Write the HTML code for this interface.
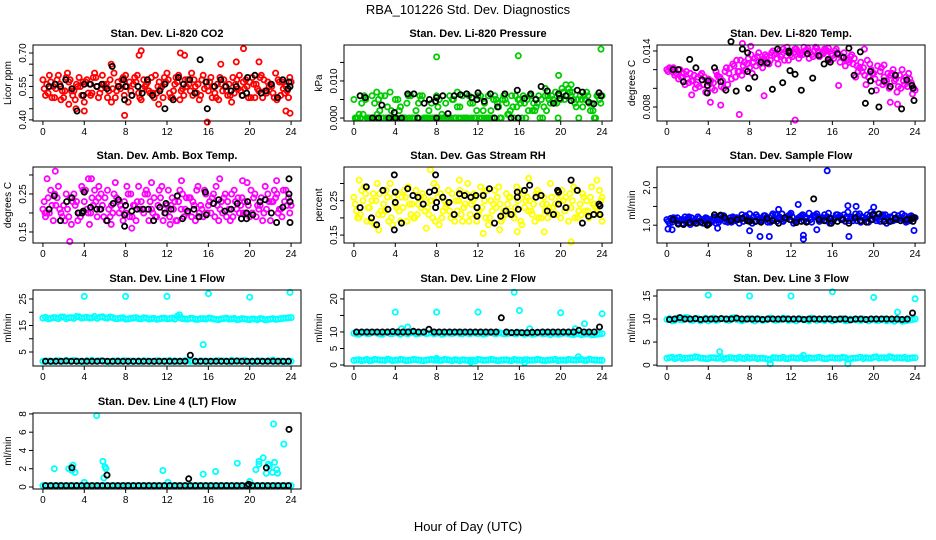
<!DOCTYPE html>
<html><head><meta charset="utf-8"><style>
body{margin:0;background:#fff}
svg{display:block;font-family:"Liberation Sans",sans-serif}
</style></head><body>
<svg id="chart" width="936" height="540" viewBox="0 0 936 540" xmlns="http://www.w3.org/2000/svg">
<rect width="936" height="540" fill="#fff"/>
<text x="468" y="14" font-size="13" text-anchor="middle">RBA_101226  Std. Dev. Diagnostics</text>
<text x="468" y="531" font-size="13" text-anchor="middle">Hour of Day (UTC)</text>
</svg>
<script>
const halfHours=[0,0.5,1,1.5,2,2.5,3,3.5,4,4.5,5,5.5,6,6.5,7,7.5,8,8.5,9,9.5,10,10.5,11,11.5,12,12.5,13,13.5,14,14.5,15,15.5,16,16.5,17,17.5,18,18.5,19,19.5,20,20.5,21,21.5,22,22.5,23,23.5,24];
const qHours=[0.25,0.75,1.25,1.75,2.25,2.75,3.25,3.75,4.25,4.75,5.25,5.75,6.25,6.75,7.25,7.75,8.25,8.75,9.25,9.75,10.25,10.75,11.25,11.75,12.25,12.75,13.25,13.75,14.25,14.75,15.25,15.75,16.25,16.75,17.25,17.75,18.25,18.75,19.25,19.75,20.25,20.75,21.25,21.75,22.25,22.75,23.25,23.75];
const e1Hours=[0.125,0.625,1.125,1.625,2.125,2.625,3.125,3.625,4.125,4.625,5.125,5.625,6.125,6.625,7.125,7.625,8.125,8.625,9.125,9.625,10.125,10.625,11.125,11.625,12.125,12.625,13.125,13.625,14.125,14.625,15.125,15.625,16.125,16.625,17.125,17.625,18.125,18.625,19.125,19.625,20.125,20.625,21.125,21.625,22.125,22.625,23.125,23.625];
const e3Hours=[0.375,0.875,1.375,1.875,2.375,2.875,3.375,3.875,4.375,4.875,5.375,5.875,6.375,6.875,7.375,7.875,8.375,8.875,9.375,9.875,10.375,10.875,11.375,11.875,12.375,12.875,13.375,13.875,14.375,14.875,15.375,15.875,16.375,16.875,17.375,17.875,18.375,18.875,19.375,19.875,20.375,20.875,21.375,21.875,22.375,22.875,23.375,23.875];
const xTicks=[0,4,8,12,16,20,24];

const co2A=[0.58,0.52,0.55,0.60,0.50,0.57,0.53,0.59,0.48,0.56,0.61,0.52,0.55,0.58,0.50,0.54,0.60,0.53,0.57,0.49,0.56,0.59,0.52,0.55,0.61,0.50,0.57,0.54,0.58,0.51,0.56,0.60,0.53,0.55,0.49,0.58,0.56,0.52,0.60,0.54,0.57,0.50,0.59,0.53,0.56,0.61,0.51,0.55,0.57];
const co2B=[0.51,0.57,0.54,0.49,0.59,0.53,0.56,0.51,0.58,0.52,0.55,0.60,0.50,0.54,0.57,0.59,0.48,0.56,0.52,0.58,0.53,0.50,0.57,0.59,0.52,0.56,0.49,0.58,0.53,0.55,0.51,0.57,0.59,0.50,0.56,0.53,0.48,0.58,0.51,0.55,0.59,0.54,0.50,0.57,0.52,0.58,0.54,0.50];
const co2C=[0.54,0.60,0.50,0.56,0.53,0.58,0.49,0.55,0.57,0.51,0.59,0.54,0.56,0.48,0.53,0.58,0.55,0.51,0.60,0.54,0.57,0.52,0.55,0.50,0.58,0.53,0.60,0.51,0.56,0.58,0.49,0.54,0.57,0.52,0.59,0.55,0.51,0.56,0.53,0.58,0.50,0.56,0.60,0.52,0.55,0.49,0.57,0.53];
const co2D=[0.56,0.50,0.58,0.53,0.61,0.51,0.55,0.57,0.52,0.59,0.50,0.56,0.53,0.61,0.55,0.51,0.57,0.59,0.50,0.55,0.52,0.60,0.54,0.57,0.50,0.59,0.53,0.55,0.61,0.52,0.58,0.55,0.50,0.56,0.53,0.51,0.59,0.54,0.57,0.50,0.56,0.53,0.58,0.55,0.50,0.57,0.52,0.59];
const co2Out=[[7.9,0.42],[9.3,0.69],[9.5,0.71],[13.3,0.70],[13.7,0.69],[15.9,0.39],[17.2,0.65],[18.7,0.66],[19.4,0.72],[20.9,0.66],[23.5,0.44],[23.9,0.43],[4,0.44],[3.2,0.45],[6.6,0.65],[2.5,0.47],[11.2,0.47]];
const co2Blk=[[0.6,0.55],[1.2,0.56],[1.7,0.55],[2.2,0.58],[2.8,0.54],[3.3,0.44],[3.9,0.51],[4.0,0.56],[4.6,0.56],[5.2,0.55],[5.7,0.56],[6.2,0.54],[6.7,0.64],[7.3,0.55],[7.8,0.58],[7.9,0.49],[8.0,0.55],[8.6,0.51],[9.2,0.55],[9.6,0.52],[10.1,0.58],[10.6,0.51],[11.3,0.53],[11.8,0.56],[11.8,0.45],[12.6,0.49],[13.1,0.59],[13.6,0.56],[14.2,0.58],[14.7,0.52],[15.2,0.67],[15.8,0.57],[15.9,0.45],[16.6,0.55],[17.2,0.58],[17.7,0.55],[18.2,0.53],[18.7,0.55],[19.3,0.51],[19.7,0.52],[19.8,0.59],[20.5,0.60],[21.1,0.52],[21.6,0.53],[22.1,0.56],[22.7,0.50],[23.2,0.58],[23.7,0.54],[23.8,0.57],[23.9,0.55]];

const presA=[0.005,0.001,0.006,0.0,0.004,0.002,0.006,0.0,0.005,0.003,0.0,0.006,0.002,0.005,0.0,0.004,0.006,0.001,0.0,0.005,0.003,0.006,0.0,0.004,0.006,0.002,0.0,0.005,0.003,0.006,0.001,0.0,0.005,0.004,0.006,0.002,0.0,0.006,0.004,0.007,0.005,0.009,0.006,0.003,0.005,0.007,0.004,0.006,0.006];
const presB=[0.0,0.004,0.0,0.006,0.001,0.0,0.003,0.0,0.005,0.0,0.006,0.0,0.004,0.0,0.002,0.0,0.005,0.0,0.006,0.0,0.003,0.0,0.004,0.0,0.006,0.0,0.002,0.005,0.0,0.004,0.006,0.003,0.0,0.005,0.002,0.004,0.0,0.006,0.005,0.0,0.007,0.008,0.005,0.0,0.006,0.004,0.0,0.005];
const presC=[0.0,0.0,0.005,0.0,0.0,0.006,0.0,0.002,0.0,0.0,0.004,0.0,0.0,0.006,0.0,0.0,0.003,0.0,0.0,0.005,0.0,0.0,0.006,0.0,0.0,0.004,0.0,0.006,0.0,0.005,0.002,0.006,0.004,0.0,0.006,0.003,0.005,0.002,0.006,0.004,0.008,0.006,0.007,0.005,0.003,0.006,0.002,0.006];
const presD=[0.0,0.001,0.0,0.0,0.005,0.0,0.0,0.0,0.002,0.0,0.0,0.0,0.006,0.0,0.0,0.0,0.0,0.004,0.0,0.0,0.0,0.0,0.0,0.002,0.0,0.0,0.0,0.004,0.005,0.001,0.003,0.005,0.006,0.002,0.004,0.006,0.003,0.005,0.004,0.006,0.005,0.007,0.004,0.006,0.005,0.002,0.0,0.004];
const presOut=[[8,0.0165],[15.9,0.0168],[19.8,0.0115],[23.9,0.0186],[21,0.009],[18.5,0.008],[2.2,0.007],[3.5,0.007],[10,0.007],[13,0.006]];
const presBlk=[[0.6,0.006],[1.1,0.0055],[1.8,0],[2.4,0],[2.7,0.0035],[3.4,0],[3.9,0.0015],[4.0,0],[4.6,0],[5.2,0.0065],[5.8,0.0065],[6.2,0],[6.8,0.004],[7.3,0.005],[7.9,0.0045],[8.0,0.0055],[8.0,0],[8.6,0.006],[9.1,0.0012],[9.7,0.006],[10.3,0.0063],[10.9,0.0065],[11.4,0.0055],[11.9,0.005],[12.0,0.0068],[12.6,0.0045],[13.2,0.0065],[13.6,0],[13.9,0.003],[14.6,0.0065],[15.2,0],[15.8,0.0075],[15.9,0],[16.5,0.0053],[17.1,0.0065],[17.6,0.005],[18.1,0.0085],[18.7,0.0073],[19.3,0.004],[19.8,0.0065],[19.9,0.0053],[20.5,0.006],[21.0,0.0047],[21.6,0.0075],[22.1,0.007],[22.7,0.0043],[23.2,0.0038],[23.7,0.0068],[23.9,0.006]];

const tempA=[0.0120,0.0118,0.0115,0.0112,0.0110,0.0108,0.0112,0.0104,0.0110,0.0106,0.0112,0.0100,0.0116,0.0124,0.0118,0.0128,0.0122,0.0132,0.0126,0.0136,0.0130,0.0138,0.0134,0.0140,0.0136,0.0142,0.0138,0.0141,0.0136,0.0143,0.0138,0.0140,0.0135,0.0138,0.0134,0.0130,0.0126,0.0118,0.0122,0.0112,0.0116,0.0106,0.0112,0.0100,0.0108,0.0114,0.0104,0.0110,0.0098];
const tempB=[0.0122,0.0114,0.0120,0.0104,0.0116,0.0100,0.0114,0.0096,0.0108,0.0118,0.0102,0.0122,0.0110,0.0130,0.0114,0.0126,0.0116,0.0134,0.0122,0.0128,0.0140,0.0126,0.0142,0.0130,0.0138,0.0132,0.0144,0.0132,0.0140,0.0134,0.0142,0.0130,0.0140,0.0128,0.0124,0.0134,0.0112,0.0128,0.0104,0.0120,0.0098,0.0122,0.0108,0.0116,0.0096,0.0120,0.0102,0.0094];
const tempC=[0.0118,0.0122,0.0110,0.0116,0.0106,0.0114,0.0102,0.0112,0.0106,0.0098,0.0112,0.0118,0.0122,0.0112,0.0130,0.0120,0.0136,0.0124,0.0130,0.0134,0.0138,0.0132,0.0136,0.0144,0.0134,0.0140,0.0136,0.0143,0.0134,0.0140,0.0137,0.0143,0.0132,0.0136,0.0138,0.0128,0.0132,0.0122,0.0114,0.0126,0.0110,0.0118,0.0106,0.0114,0.0110,0.0100,0.0112,0.0106];
const tempD=[0.0121,0.0116,0.0112,0.0118,0.0108,0.0104,0.0116,0.0108,0.0100,0.0114,0.0108,0.0104,0.0126,0.0118,0.0124,0.0132,0.0128,0.0138,0.0132,0.0126,0.0136,0.0140,0.0130,0.0138,0.0142,0.0136,0.0140,0.0138,0.0144,0.0136,0.0141,0.0137,0.0142,0.0134,0.0130,0.0136,0.0124,0.0118,0.0130,0.0116,0.0124,0.0104,0.0116,0.0120,0.0102,0.0108,0.0116,0.0100];
const tempOut=[[7.3,0.0148],[7,0.0072],[5.2,0.0082],[4.2,0.0085],[12.4,0.0066],[19.1,0.0142],[21,0.0125],[21.6,0.0085],[22.3,0.0083],[2.4,0.0093],[16.6,0.0103],[8.1,0.0145],[9.4,0.0092]];
const tempBlk=[[0.6,0.0120],[1.1,0.0120],[1.6,0.0107],[2.2,0.0131],[2.8,0.0122],[3.4,0.0109],[3.9,0.0095],[3.9,0.0103],[4.0,0.0108],[4.6,0.0122],[5.2,0.0107],[5.7,0.0098],[6.2,0.0150],[6.7,0.0097],[7.3,0.0142],[7.8,0.0138],[7.8,0.0118],[7.9,0.0100],[8.5,0.0112],[9.1,0.0128],[9.7,0.0127],[10.2,0.0099],[10.7,0.0142],[11.2,0.0106],[11.8,0.0140],[11.8,0.0138],[11.9,0.0119],[12.4,0.0115],[13.0,0.0098],[13.6,0.0137],[14.1,0.0111],[14.7,0.0135],[15.2,0.0126],[15.6,0.0131],[15.8,0.0128],[16.5,0.0137],[17.1,0.0133],[17.6,0.0143],[18.1,0.0114],[18.7,0.0139],[19.2,0.0084],[19.7,0.0118],[19.7,0.0108],[19.8,0.0097],[20.5,0.0080],[21.0,0.0108],[21.6,0.0102],[22.1,0.0114],[22.7,0.0078],[23.2,0.0109],[23.7,0.0103],[23.8,0.0100],[23.9,0.0087]];

const ambA=[0.21,0.24,0.18,0.27,0.22,0.19,0.25,0.20,0.23,0.17,0.26,0.21,0.24,0.19,0.28,0.22,0.20,0.25,0.18,0.23,0.26,0.21,0.19,0.27,0.22,0.24,0.18,0.25,0.20,0.23,0.27,0.19,0.22,0.25,0.18,0.24,0.21,0.26,0.20,0.23,0.19,0.25,0.22,0.27,0.18,0.24,0.21,0.26,0.22];
const ambB=[0.19,0.26,0.22,0.20,0.25,0.17,0.23,0.27,0.21,0.24,0.19,0.22,0.26,0.20,0.23,0.18,0.25,0.22,0.27,0.20,0.18,0.24,0.26,0.21,0.19,0.23,0.26,0.21,0.24,0.18,0.22,0.25,0.20,0.27,0.23,0.19,0.25,0.21,0.24,0.28,0.20,0.22,0.18,0.25,0.23,0.20,0.26,0.24];
const ambC=[0.23,0.20,0.25,0.21,0.18,0.24,0.22,0.19,0.26,0.20,0.23,0.25,0.18,0.22,0.24,0.21,0.27,0.19,0.23,0.21,0.25,0.20,0.22,0.18,0.26,0.21,0.23,0.19,0.24,0.22,0.20,0.26,0.23,0.19,0.21,0.25,0.18,0.23,0.22,0.20,0.26,0.19,0.24,0.21,0.23,0.25,0.19,0.22];
const ambD=[0.20,0.22,0.24,0.19,0.21,0.23,0.18,0.26,0.20,0.22,0.24,0.19,0.21,0.25,0.20,0.23,0.19,0.22,0.21,0.25,0.23,0.19,0.24,0.20,0.22,0.18,0.21,0.24,0.19,0.26,0.21,0.20,0.24,0.22,0.20,0.23,0.19,0.24,0.20,0.22,0.24,0.21,0.20,0.23,0.26,0.21,0.23,0.20];
const ambOut=[[0.4,0.29],[1.2,0.31],[2.6,0.125],[4.4,0.29],[4.7,0.29],[8.6,0.16],[10.5,0.28],[13.4,0.285],[17.1,0.29],[19.3,0.285],[22.6,0.285],[6.6,0.17],[15.0,0.19],[12.3,0.17],[0.2,0.2],[5.4,0.27]];
const ambBlk=[[0.6,0.21],[1.1,0.245],[1.7,0.18],[2.3,0.23],[2.8,0.24],[3.4,0.20],[3.8,0.20],[3.9,0.205],[4.0,0.255],[4.6,0.215],[5.2,0.21],[5.6,0.21],[6.2,0.18],[6.8,0.225],[7.3,0.235],[7.9,0.165],[7.9,0.195],[8.0,0.22],[8.6,0.205],[9.1,0.21],[9.7,0.21],[10.2,0.21],[10.7,0.18],[11.3,0.215],[11.8,0.20],[11.9,0.225],[12.4,0.21],[13.0,0.245],[13.5,0.185],[14.0,0.205],[14.6,0.21],[15.1,0.19],[15.7,0.255],[15.8,0.195],[16.5,0.225],[17.0,0.235],[17.6,0.205],[18.2,0.21],[18.8,0.225],[19.2,0.185],[19.7,0.20],[19.7,0.185],[19.8,0.23],[20.3,0.195],[21.0,0.23],[21.5,0.235],[22.1,0.20],[22.6,0.175],[23.2,0.215],[23.8,0.29],[23.8,0.25],[23.9,0.23],[23.9,0.175]];

const rhA=[0.26,0.20,0.29,0.23,0.18,0.27,0.22,0.30,0.24,0.19,0.26,0.21,0.28,0.23,0.17,0.25,0.29,0.20,0.24,0.27,0.22,0.19,0.30,0.25,0.21,0.27,0.18,0.24,0.29,0.22,0.26,0.20,0.28,0.23,0.25,0.19,0.27,0.22,0.30,0.24,0.20,0.26,0.23,0.28,0.21,0.25,0.29,0.22,0.26];
const rhB=[0.22,0.28,0.19,0.25,0.30,0.21,0.26,0.18,0.27,0.23,0.29,0.20,0.24,0.26,0.21,0.30,0.18,0.25,0.22,0.19,0.28,0.24,0.21,0.26,0.29,0.20,0.25,0.23,0.19,0.27,0.22,0.29,0.18,0.26,0.21,0.28,0.24,0.20,0.23,0.27,0.25,0.19,0.29,0.22,0.26,0.20,0.24,0.28];
const rhC=[0.24,0.21,0.27,0.19,0.25,0.22,0.28,0.20,0.23,0.26,0.19,0.24,0.21,0.27,0.23,0.20,0.26,0.22,0.28,0.21,0.25,0.23,0.19,0.27,0.22,0.25,0.20,0.28,0.24,0.21,0.26,0.23,0.19,0.25,0.22,0.27,0.20,0.24,0.26,0.21,0.28,0.23,0.25,0.20,0.27,0.22,0.24,0.21];
const rhD=[0.20,0.25,0.23,0.27,0.21,0.24,0.19,0.26,0.22,0.28,0.24,0.20,0.26,0.22,0.25,0.19,0.27,0.23,0.20,0.25,0.21,0.27,0.24,0.19,0.23,0.28,0.22,0.26,0.20,0.24,0.21,0.25,0.27,0.22,0.24,0.20,0.26,0.23,0.21,0.25,0.22,0.27,0.20,0.24,0.22,0.26,0.23,0.25];
const rhOut=[[7.4,0.34],[15.8,0.16],[12.5,0.155],[18.4,0.16],[21,0.13],[2.4,0.165],[14.1,0.165],[16.9,0.315],[10.2,0.31],[0.5,0.31],[23.5,0.31],[24,0.19]];
const rhBlk=[[0.6,0.23],[1.2,0.29],[1.7,0.20],[2.2,0.18],[2.8,0.28],[3.3,0.225],[3.9,0.325],[3.9,0.165],[4.0,0.275],[4.0,0.245],[4.6,0.185],[5.2,0.285],[5.7,0.265],[6.2,0.26],[6.7,0.24],[7.3,0.275],[7.8,0.28],[7.9,0.325],[7.9,0.23],[8.0,0.245],[8.6,0.26],[9.2,0.245],[9.7,0.21],[10.2,0.27],[10.7,0.265],[11.3,0.26],[11.8,0.265],[11.9,0.205],[11.9,0.23],[12.5,0.265],[13.1,0.285],[13.6,0.185],[14.2,0.205],[14.7,0.22],[15.2,0.21],[15.8,0.275],[15.8,0.26],[15.9,0.225],[16.5,0.28],[17.0,0.295],[17.6,0.26],[18.1,0.265],[18.7,0.22],[19.3,0.21],[19.7,0.28],[19.8,0.24],[19.8,0.275],[20.5,0.23],[21.0,0.31],[21.6,0.28],[22.1,0.185],[22.7,0.205],[23.2,0.21],[23.7,0.24],[23.8,0.21],[23.8,0.235]];

const sfA=[1.15,1.08,1.20,1.05,1.18,1.10,1.22,1.05,1.15,1.20,1.08,1.25,1.12,1.18,1.05,1.22,1.30,1.10,1.18,1.25,1.08,1.28,1.15,1.20,1.32,1.12,1.25,1.18,1.08,1.30,1.15,1.22,1.10,1.28,1.18,1.35,1.12,1.25,1.20,1.08,1.30,1.15,1.22,1.10,1.28,1.18,1.25,1.12,1.20];
const sfB=[1.05,1.18,1.10,1.22,1.02,1.15,1.08,1.20,1.12,1.05,1.25,1.15,1.08,1.20,1.28,1.12,1.05,1.22,1.15,1.08,1.30,1.18,1.10,1.25,1.05,1.20,1.12,1.32,1.22,1.10,1.28,1.05,1.18,1.25,1.10,1.22,1.30,1.08,1.18,1.35,1.12,1.25,1.05,1.20,1.15,1.30,1.10,1.22];
const sfC=[1.10,1.20,1.05,1.15,1.22,1.08,1.18,1.12,1.05,1.22,1.15,1.10,1.20,1.12,1.18,1.25,1.15,1.28,1.12,1.20,1.25,1.10,1.30,1.18,1.22,1.15,1.28,1.10,1.25,1.18,1.20,1.32,1.15,1.22,1.28,1.12,1.20,1.30,1.15,1.25,1.18,1.10,1.28,1.22,1.15,1.20,1.08,1.25];
const sfD=[1.18,1.12,1.15,1.08,1.20,1.05,1.15,1.18,1.10,1.15,1.20,1.08,1.22,1.15,1.10,1.18,1.22,1.15,1.25,1.12,1.18,1.22,1.15,1.28,1.10,1.22,1.18,1.15,1.25,1.20,1.12,1.18,1.28,1.15,1.22,1.18,1.12,1.22,1.28,1.15,1.20,1.28,1.18,1.12,1.25,1.15,1.22,1.18];
const sfOut=[[0.1,0.9],[0.5,0.88],[4.9,0.92],[8.0,0.85],[9.0,0.7],[9.9,0.7],[13.2,0.73],[13.2,0.63],[12.7,1.55],[15.5,2.45],[17.6,0.7],[17.5,1.52],[18.3,1.5],[20.0,1.48],[23.9,0.86],[10.8,1.42],[14.5,0.88]];
const sfBlk=[[0.6,1.15],[1.1,1.03],[1.6,1.02],[2.2,1.07],[2.8,1.05],[3.3,1.08],[3.9,1.0],[4.0,1.03],[4.6,1.28],[5.2,1.27],[5.6,1.2],[6.2,1.12],[6.8,1.15],[7.3,1.18],[7.8,1.12],[8.0,1.1],[8.6,1.1],[9.1,1.08],[9.7,1.18],[10.2,1.12],[10.8,1.05],[11.4,1.2],[11.9,1.15],[12.5,1.07],[13.0,1.1],[13.5,1.08],[14.2,1.7],[14.7,1.15],[15.2,1.12],[15.8,1.18],[15.9,1.05],[16.5,1.1],[17.0,1.15],[17.6,1.05],[18.2,1.2],[18.7,1.12],[19.3,1.08],[19.8,1.15],[19.9,1.28],[20.5,1.3],[21.0,1.1],[21.6,1.1],[22.1,1.18],[22.6,1.12],[23.2,1.15],[23.7,1.18],[23.8,1.1],[23.9,1.2]];

const l1Hi=[17.8,17.5,18.0,17.6,18.2,17.9,17.7,18.3,18.0,17.8,18.4,18.1,17.9,18.2,17.6,17.8,17.4,17.7,18.0,17.5,17.8,17.6,17.3,17.7,17.5,17.8,18.5,17.6,17.4,17.7,17.3,17.6,17.8,17.5,17.2,17.6,17.4,17.7,17.3,17.5,17.2,17.4,17.6,17.1,17.4,17.3,17.6,17.8,18.0];
const l1Hi2=[18.1,17.7,17.9,18.2,17.6,18.0,18.4,17.8,18.1,17.9,17.7,18.3,17.8,18.0,17.6,17.9,17.5,17.8,17.6,17.9,17.4,17.7,17.5,17.8,17.6,17.4,17.9,17.5,17.7,17.3,17.6,17.4,17.7,17.3,17.5,17.8,17.5,17.2,17.6,17.3,17.5,17.2,17.5,17.3,17.6,17.4,17.7,17.9];
const l1Lo=[1.6,1.4,1.7,1.5,1.8,1.5,1.6,1.4,1.7,1.9,1.5,1.6,1.4,1.5,1.7,1.6,1.5,1.4,1.6,1.7,1.5,1.4,1.6,1.5,1.8,1.6,1.5,1.7,1.4,1.5,1.6,1.4,1.5,1.7,1.6,1.5,1.9,1.5,1.6,1.4,1.5,1.7,1.5,1.6,2.0,1.5,1.4,1.6];
const l1Lo2=[1.5,1.6,1.4,1.7,1.5,1.6,1.8,1.5,1.4,1.6,1.5,1.7,1.5,1.4,1.6,1.5,1.7,1.6,1.5,1.4,1.6,1.5,1.7,1.5,1.6,1.4,1.5,1.6,1.7,1.5,1.4,1.6,1.5,1.5,1.7,1.6,1.4,1.5,1.6,1.8,1.5,1.4,1.6,1.5,1.7,1.5,1.6,1.4,1.5];
const l1Out=[[4,26],[8,26],[12,26],[16,27],[20,25.7],[23.9,27.5],[15.5,7.8],[13.2,19]];
const l1Blk=[1.5,1.5,1.5,1.5,1.6,1.5,1.5,1.5,1.5,1.5,1.5,1.6,1.5,1.5,1.5,1.5,1.5,1.5,1.5,1.5,1.5,1.5,1.5,1.5,1.5,1.5,1.5,1.5,3.8,1.5,1.5,1.5,1.5,1.5,1.5,1.5,1.5,1.6,1.5,1.5,1.5,1.5,1.5,1.5,1.5,1.5,1.5,1.5];

const l2Hi=[9.6,9.3,9.8,9.5,9.9,9.4,9.7,9.5,9.8,9.3,9.6,9.9,9.4,9.7,9.5,9.8,9.6,9.3,9.7,9.5,9.9,9.4,9.6,9.8,9.5,9.3,9.7,9.6,9.9,9.4,9.6,9.5,9.8,9.3,9.6,9.4,9.7,9.5,9.2,9.6,9.4,9.7,9.3,9.5,9.2,9.4,9.1,9.3,9.5];
const l2Hi2=[9.4,9.7,9.5,9.8,9.6,9.3,9.9,9.5,9.6,9.8,9.4,9.7,9.5,9.9,9.6,9.4,9.8,9.5,9.6,9.7,9.5,9.8,9.4,9.6,9.7,9.5,9.8,9.4,9.6,9.5,9.7,9.4,9.6,9.5,9.3,9.6,9.4,9.7,9.5,9.3,9.6,9.4,9.2,9.5,9.3,9.4,9.2,9.4];
const l2Lo=[1.5,1.3,1.7,1.4,1.6,1.5,1.8,1.3,1.5,1.6,1.4,1.7,1.5,1.3,1.6,1.5,1.4,1.7,1.5,1.6,1.3,1.5,1.4,1.2,1.6,1.5,1.7,1.4,1.5,1.6,1.3,1.5,1.4,1.6,1.5,1.7,1.4,1.5,1.6,1.3,1.5,1.7,1.5,1.6,1.4,1.8,1.5,1.4];
const l2Lo2=[1.4,1.6,1.5,1.3,1.7,1.5,1.4,1.6,1.5,1.7,1.3,1.5,1.6,1.4,1.5,1.7,1.5,1.4,1.6,1.3,1.5,1.6,1.4,1.5,1.7,1.4,1.5,1.6,1.3,1.5,1.4,1.7,1.5,1.6,1.4,1.5,1.6,1.3,1.5,1.7,1.5,1.4,1.6,1.5,1.7,1.4,1.6,1.5,1.4];
const l2Out=[[4,16],[8,16],[12,16],[15.5,22],[16,16.5],[20,15.8],[24,15.5],[4.6,11],[5.2,11.5],[17,11],[21.4,11],[22.3,12.5],[21.7,2.5],[11.3,0.9],[16.5,0.7],[8,2]];
const l2Blk=[10,10,10,10,10,10,10,10.1,10,10,10,10.2,10,10,10.8,10,10,10,10,10,10,10,10,10,10,10,10,10,14.3,10,9.8,9.9,9.8,9.8,9.9,9.9,10,10,10,10,10,10,10,10.5,10,10,10,11.5];

const l3Hi=[9.9,9.6,10.2,9.8,10.3,9.7,10.1,9.9,9.6,10.2,9.8,10.0,9.7,10.3,9.9,9.8,10.1,9.6,10.0,9.8,10.2,9.7,9.9,10.1,9.8,9.6,10.0,9.9,10.2,9.7,9.8,10.0,9.6,9.9,10.1,9.7,9.9,9.8,10.0,9.6,9.9,9.7,10.0,9.8,9.5,9.9,9.6,9.8,10.0];
const l3Hi2=[10.1,9.7,9.9,10.3,9.8,10.0,9.6,10.2,9.9,9.7,10.1,9.8,10.2,9.9,9.6,10.0,9.8,10.1,9.7,9.9,10.0,9.8,10.2,9.7,9.9,10.1,9.8,9.6,10.0,9.9,9.7,10.1,9.8,9.9,9.6,10.0,9.8,9.7,9.9,10.0,9.7,9.9,9.6,9.8,9.9,9.5,9.7,9.9];
const l3Lo=[1.6,1.4,1.7,1.5,1.6,1.8,1.5,1.4,1.6,1.5,1.7,1.5,1.6,1.4,1.5,1.7,1.6,1.4,1.5,1.3,1.6,1.5,1.7,1.4,1.6,1.5,1.4,1.6,1.5,1.7,1.4,1.6,1.5,1.5,1.6,1.4,1.5,1.7,1.6,1.5,1.8,1.6,1.5,1.7,1.6,1.5,1.4,1.6];
const l3Lo2=[1.5,1.7,1.6,1.4,1.5,1.6,1.7,1.5,1.4,1.6,1.5,1.3,1.6,1.5,1.7,1.4,1.5,1.6,1.5,1.4,1.2,1.6,1.5,1.4,1.6,1.5,1.7,1.4,1.5,1.6,1.5,1.4,1.6,1.5,1.7,1.3,1.5,1.6,1.4,1.5,1.7,1.5,1.6,1.8,1.5,1.6,1.7,1.5,1.6];
const l3Out=[[4,15.2],[8,15],[12,15],[16,15.9],[20,14.7],[24,14.4],[22.3,11.5],[5.1,2.9],[10,0.3],[17.5,0.3],[13.2,2.1]];
const l3Blk=[9.9,10,10.3,10,10,10.1,9.9,10,10,10,10.1,10,10,10.2,10,10,10,10,9.9,10,10,10,10,10,10,10,9.9,10,10,10,10,10,9.9,10,10,9.8,10,10,9.9,10,10,10,10,10,10,9.9,10,11.3];

const l4Base=[0.15,0.15,0.15,0.15,0.15,0.15,0.15,0.15,0.15,0.15,0.15,0.15,0.15,0.15,0.15,0.15,0.15,0.15,0.15,0.15,0.15,0.15,0.15,0.15,0.15,0.15,0.15,0.15,0.15,0.15,0.15,0.15,0.15,0.15,0.15,0.15,0.15,0.15,0.15,0.15,0.15,0.15,0.15,0.15,0.15,0.15,0.15,0.15,0.15];
const l4Base2=[0.15,0.15,0.15,0.15,0.15,0.15,0.15,0.15,0.15,0.15,0.15,0.15,0.15,0.15,0.15,0.15,0.15,0.15,0.15,0.15,0.15,0.15,0.15,0.15,0.15,0.15,0.15,0.15,0.15,0.15,0.15,0.15,0.15,0.15,0.15,0.15,0.15,0.15,0.15,0.15,0.15,0.15,0.15,0.15,0.15,0.15,0.15,0.15];
const l4Out=[[1.1,2],[2.5,2],[2.9,2.4],[3.1,1.6],[2.8,1.8],[5.2,7.8],[5.8,2.8],[6,2.2],[6.1,2],[5.9,1.0],[4,0.5],[11.6,1.8],[12.1,0.5],[15.5,1.4],[16.7,1.7],[18.8,2.6],[20,0.6],[20.6,1.9],[20.9,2.8],[20.9,2.5],[21.3,3.2],[21.6,1.5],[21.9,2.3],[22.2,1.6],[22.4,2.7],[22.6,1.9],[22.7,1.5],[22.3,6.9],[23.3,4.7],[21.8,2.5]];
const l4Blk=[0.15,0.15,0.15,0.15,0.15,0.15,0.15,0.15,0.15,0.15,0.15,0.15,0.15,0.15,0.15,0.15,0.15,0.15,0.15,0.15,0.15,0.15,0.15,0.15,0.15,0.15,0.15,0.15,0.15,0.15,0.15,0.15,0.15,0.15,0.15,0.15,0.15,0.15,0.15,0.15,0.15,0.15,0.15,0.15,0.15,0.15,0.15,0.15];
const l4BlkOut=[[2.8,2.1],[6.2,1.3],[14.1,0.9],[21.6,2.1],[23.8,6.3],[19.9,0.3]];

const NS='http://www.w3.org/2000/svg';
const svg=document.getElementById('chart');
function mk(tag,attrs,parent){const e=document.createElementNS(NS,tag);for(const k in attrs)e.setAttribute(k,attrs[k]);(parent||svg).appendChild(e);return e;}
const W=268,H=76;
function panel(cfg){
  const g=mk('g',{});
  
  
  const L=cfg.left,T=cfg.top;
  const xs=h=>L+(h+0.96)/25.92*W;
  const ys=v=>T+H-(v-cfg.dom[0])/(cfg.dom[1]-cfg.dom[0])*H;
  const t=mk('text',{x:L+W/2,y:T-8,'font-size':11,'font-weight':'bold','text-anchor':'middle'},g);
  t.textContent=cfg.title;
  
  
  const yl=mk('text',{transform:`translate(${L-22},${T+H/2}) rotate(-90)`,'font-size':10,'text-anchor':'middle'},g);
  yl.textContent=cfg.ylab;
  
  
  const pts=mk('g',{},g);
  
  
  function dot(h,v,c){
    const el=mk('circle',{cx:xs(h).toFixed(1),cy:ys(v).toFixed(1),r:2.6,fill:'none',stroke:c,'stroke-width':1.8},pts);
    
    
  }
  cfg.series.forEach(s=>{
    if(s.pairs) s.pairs.forEach(p=>dot(p[0],p[1],s.color));
    else s.vals.forEach((v,i)=>dot(s.hours[i],v,s.color));
  });
  const box=mk('rect',{x:L,y:T,width:W,height:H,fill:'none',stroke:'#000','stroke-width':1},g);
  
  
  xTicks.forEach(h=>{
    const x=xs(h);
    mk('line',{x1:x,x2:x,y1:T+H,y2:T+H+4,stroke:'#000'},g);
    const tx=mk('text',{x:x,y:T+H+14,'font-size':10,'text-anchor':'middle'},g);
    tx.textContent=h;
    
    
  });
  cfg.yticks.forEach((v,i)=>{
    const y=ys(v);
    mk('line',{x1:L-4,x2:L,y1:y,y2:y,stroke:'#000'},g);
    if(cfg.ylabels[i]!==''){
      const ty=mk('text',{transform:`translate(${L-7},${y}) rotate(-90)`,'font-size':10,'text-anchor':'middle'},g);
      ty.textContent=cfg.ylabels[i];
      
      
    }
  });
}
const C1=33,C2=344,C3=657,R1=45,R2=167,R3=290,R4=413;
panel({name:'panel-co2',left:C1,top:R1,title:'Stan. Dev. Li-820 CO2',ylab:'Licor ppm',dom:[0.395,0.736],
  yticks:[0.40,0.45,0.50,0.55,0.60,0.65,0.70],ylabels:['0.40','','','0.55','','','0.70'],
  series:[{vals:co2A,hours:halfHours,color:'#ff0000'},{vals:co2B,hours:qHours,color:'#ff0000'},{vals:co2C,hours:e1Hours,color:'#ff0000'},{vals:co2D,hours:e3Hours,color:'#ff0000'},{pairs:co2Out,color:'#ff0000'},{pairs:co2Blk,color:'#000'}]});
panel({name:'panel-pressure',left:C2,top:R1,title:'Stan. Dev. Li-820 Pressure',ylab:'kPa',dom:[-0.0008,0.0197],
  yticks:[0,0.005,0.010,0.015],ylabels:['0.000','','0.010',''],
  series:[{vals:presA,hours:halfHours,color:'#00cd00'},{vals:presB,hours:qHours,color:'#00cd00'},{vals:presC,hours:e1Hours,color:'#00cd00'},{vals:presD,hours:e3Hours,color:'#00cd00'},{pairs:presOut,color:'#00cd00'},{pairs:presBlk,color:'#000'}]});
panel({name:'panel-licor-temp',left:C3,top:R1,title:'Stan. Dev. Li-820 Temp.',ylab:'degrees C',dom:[0.0065,0.01464],
  yticks:[0.008,0.010,0.012,0.014],ylabels:['0.008','','','0.014'],
  series:[{vals:tempA,hours:halfHours,color:'#ff00ff'},{vals:tempB,hours:qHours,color:'#ff00ff'},{vals:tempC,hours:e1Hours,color:'#ff00ff'},{vals:tempD,hours:e3Hours,color:'#ff00ff'},{pairs:tempOut,color:'#ff00ff'},{pairs:tempBlk,color:'#000'}]});
panel({name:'panel-amb-box-temp',left:C1,top:R2,title:'Stan. Dev. Amb. Box Temp.',ylab:'degrees C',dom:[0.121,0.321],
  yticks:[0.15,0.20,0.25,0.30],ylabels:['0.15','','0.25',''],
  series:[{vals:ambA,hours:halfHours,color:'#ff00ff'},{vals:ambB,hours:qHours,color:'#ff00ff'},{vals:ambC,hours:e1Hours,color:'#ff00ff'},{vals:ambD,hours:e3Hours,color:'#ff00ff'},{pairs:ambOut,color:'#ff00ff'},{pairs:ambBlk,color:'#000'}]});
panel({name:'panel-gas-rh',left:C2,top:R2,title:'Stan. Dev. Gas Stream RH',ylab:'percent',dom:[0.127,0.348],
  yticks:[0.15,0.20,0.25,0.30],ylabels:['0.15','','0.25',''],
  series:[{vals:rhA,hours:halfHours,color:'#ffff00'},{vals:rhB,hours:qHours,color:'#ffff00'},{vals:rhC,hours:e1Hours,color:'#ffff00'},{vals:rhD,hours:e3Hours,color:'#ffff00'},{pairs:rhOut,color:'#ffff00'},{pairs:rhBlk,color:'#000'}]});
panel({name:'panel-sample-flow',left:C3,top:R2,title:'Stan. Dev. Sample Flow',ylab:'ml/min',dom:[0.526,2.55],
  yticks:[1.0,1.5,2.0],ylabels:['1.0','','2.0'],
  series:[{vals:sfA,hours:halfHours,color:'#0000ff'},{vals:sfB,hours:qHours,color:'#0000ff'},{vals:sfC,hours:e1Hours,color:'#0000ff'},{vals:sfD,hours:e3Hours,color:'#0000ff'},{pairs:sfOut,color:'#0000ff'},{pairs:sfBlk,color:'#000'}]});
panel({name:'panel-line1-flow',left:C1,top:R3,title:'Stan. Dev. Line 1 Flow',ylab:'ml/min',dom:[-0.28,28.4],
  yticks:[5,10,15,20,25],ylabels:['5','','15','','25'],
  series:[{vals:l1Hi,hours:halfHours,color:'#00ffff'},{vals:l1Hi2,hours:qHours,color:'#00ffff'},{vals:l1Lo,hours:qHours,color:'#00ffff'},{vals:l1Lo2,hours:halfHours,color:'#00ffff'},{pairs:l1Out,color:'#00ffff'},{vals:l1Blk,hours:qHours,color:'#000'}]});
panel({name:'panel-line2-flow',left:C2,top:R3,title:'Stan. Dev. Line 2 Flow',ylab:'ml/min',dom:[-0.3,22.7],
  yticks:[0,5,10,15,20],ylabels:['0','5','10','','20'],
  series:[{vals:l2Hi,hours:halfHours,color:'#00ffff'},{vals:l2Hi2,hours:qHours,color:'#00ffff'},{vals:l2Lo,hours:qHours,color:'#00ffff'},{vals:l2Lo2,hours:halfHours,color:'#00ffff'},{pairs:l2Out,color:'#00ffff'},{vals:l2Blk,hours:qHours,color:'#000'}]});
panel({name:'panel-line3-flow',left:C3,top:R3,title:'Stan. Dev. Line 3 Flow',ylab:'ml/min',dom:[-0.2,16.3],
  yticks:[0,5,10,15],ylabels:['0','5','10','15'],
  series:[{vals:l3Hi,hours:halfHours,color:'#00ffff'},{vals:l3Hi2,hours:qHours,color:'#00ffff'},{vals:l3Lo,hours:qHours,color:'#00ffff'},{vals:l3Lo2,hours:halfHours,color:'#00ffff'},{pairs:l3Out,color:'#00ffff'},{vals:l3Blk,hours:qHours,color:'#000'}]});
panel({name:'panel-line4-flow',left:C1,top:R4,title:'Stan. Dev. Line 4 (LT) Flow',ylab:'ml/min',dom:[-0.22,8.1],
  yticks:[0,2,4,6,8],ylabels:['0','2','4','6','8'],
  series:[{vals:l4Base,hours:halfHours,color:'#00ffff'},{vals:l4Base2,hours:qHours,color:'#00ffff'},{pairs:l4Out,color:'#00ffff'},{vals:l4Blk,hours:qHours,color:'#000'},{pairs:l4BlkOut,color:'#000'}]});
</script>
</body></html>
